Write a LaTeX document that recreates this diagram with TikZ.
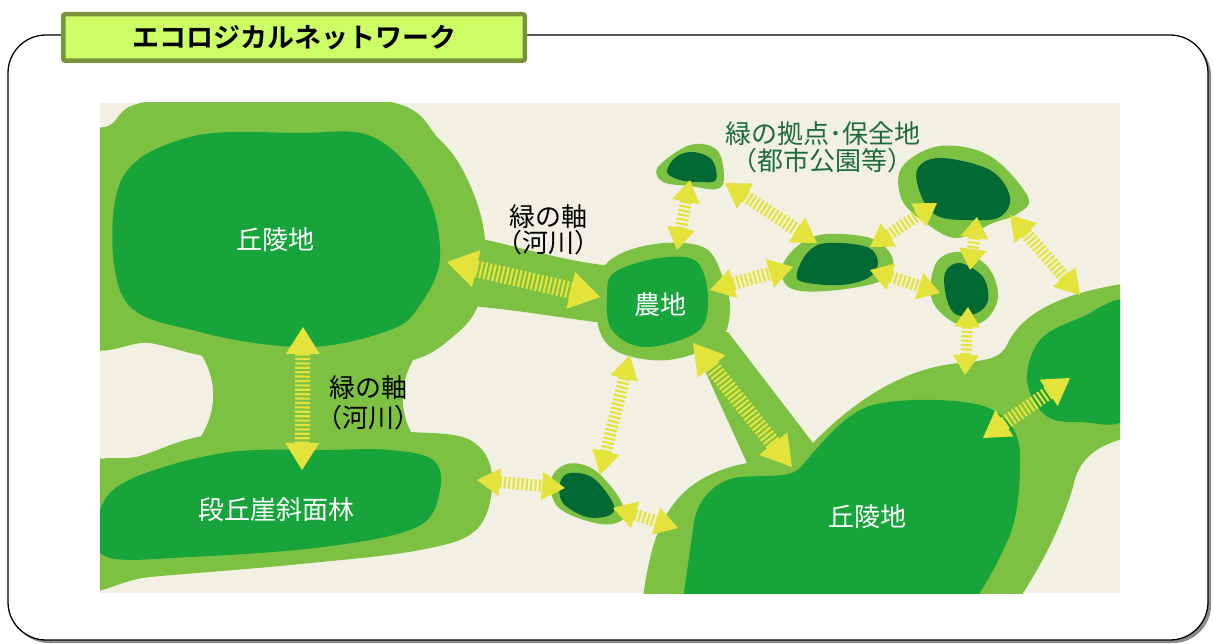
\documentclass[tikz,border=0pt]{standalone}
\usepackage{fontspec}
\newfontfamily\jp{Noto Sans CJK JP}
\newfontfamily\jpb{Noto Sans CJK JP Bold}
\usetikzlibrary{calc}
\definecolor{cream}{HTML}{F2F0E2}
\definecolor{lgreen}{HTML}{7DC143}
\definecolor{mgreen}{HTML}{16A43B}
\definecolor{dgreen}{HTML}{006934}
\definecolor{ayellow}{HTML}{E3E33B}
\definecolor{labelgreen}{HTML}{1E6B3B}
\definecolor{titlefill}{HTML}{CCFF66}
\definecolor{titleborder}{HTML}{77933C}
\definecolor{shadowgray}{HTML}{8A8A8A}
\newcommand\yarrow[5]{%
  \path ($(#1)!#3!(#2)$) coordinate (ya) ($(#2)!#3!(#1)$) coordinate (yb);
  \fill[ayellow] (#1) -- ($(ya)!#4!90:(#1)$) -- ($(ya)!#4!-90:(#1)$) -- cycle;
  \fill[ayellow] (#2) -- ($(yb)!#4!90:(#2)$) -- ($(yb)!#4!-90:(#2)$) -- cycle;
  \draw[ayellow, line width=#5, dash pattern=on 2.2pt off 2.2pt] ($(ya)!-0.5pt!(yb)$) -- ($(yb)!-0.5pt!(ya)$);
}
\begin{document}
\begin{tikzpicture}[x=1pt,y=-1pt,
  lbl/.style={font=\jp\fontsize{26}{30}\selectfont, inner sep=0pt},
  wlbl/.style={lbl, text=white},
  blbl/.style={lbl, text=black},
  glbl/.style={lbl, text=labelgreen},
  blob/.style={smooth cycle, tension=0.6}]
\useasboundingbox (0,0) rectangle (1214,644);
% frame
\fill[shadowgray, rounded corners=38pt] (11,38) rectangle (1211,643);
\filldraw[fill=white, draw=black, line width=1.3pt, rounded corners=38pt] (8,35) rectangle (1208,640);
% map
\fill[cream] (100,103) rectangle (1120,593);
\begin{scope}
\clip (100,103) rectangle (1120,593);
% light green areas
\fill[lgreen] plot[blob] coordinates {(80,150) (110,125) (160,100) (380,100) (440,140) (470,185) (485,240) (480,300) (455,335) (405,362) (300,366) (210,357) (150,343) (80,335)};
\fill[lgreen] (190,340) .. controls (218,370) and (222,410) .. (195,445) -- (420,445) .. controls (398,420) and (396,380) .. (420,350) -- cycle;
\fill[lgreen] plot[blob] coordinates {(80,472) (140,456) (210,435) (330,432) (410,432) (470,440) (492,475) (478,528) (420,550) (290,565) (150,577) (80,585)};
\fill[lgreen] (470,236) .. controls (530,250) and (570,262) .. (612,266) -- (612,324) .. controls (560,318) and (520,310) .. (470,306) -- cycle;
\fill[lgreen] plot[blob] coordinates {(600,275) (622,253) (665,243) (705,248) (722,275) (730,310) (718,342) (668,360) (618,352) (598,325)};
\fill[lgreen] (640,620) .. controls (650,540) and (660,480) .. (747,463)
  -- (690,338) -- (728,332) -- (813,443)
  .. controls (850,405) and (900,368) .. (960,363)
  .. controls (990,360) and (1000,358) .. (1007,345)
  .. controls (1020,315) and (1060,292) .. (1130,283)
  -- (1130,437) .. controls (1095,445) and (1078,460) .. (1073,487)
  .. controls (1060,530) and (1040,570) .. (1005,620) -- cycle;
% medium green areas
\fill[mgreen] plot[blob] coordinates {(120,183) (190,137) (300,133) (373,137) (425,190) (440,257) (420,305) (390,330) (307,347) (200,332) (123,297)};
\fill[mgreen] plot[blob] coordinates {(97,523) (123,483) (223,453) (330,450) (390,450) (433,460) (440,490) (417,527) (323,547) (190,557) (107,557)};
\fill[mgreen] plot[blob] coordinates {(615,272) (660,258) (697,262) (708,300) (697,332) (645,347) (612,330) (607,295)};
\fill[mgreen] (680,620) -- (693,530) .. controls (695,500) and (715,480) .. (740,477)
  .. controls (770,475) and (790,478) .. (800,468)
  .. controls (820,445) and (845,412) .. (873,405)
  .. controls (900,398) and (950,398) .. (980,405)
  .. controls (1005,412) and (1020,430) .. (1020,455)
  .. controls (1020,490) and (1018,513) .. (1010,535)
  .. controls (995,570) and (980,595) .. (960,620) -- cycle;
\fill[mgreen] plot[blob] coordinates {(1130,305) (1080,318) (1040,340) (1027,380) (1045,415) (1080,422) (1130,413)};
% parks
\fill[lgreen] plot[blob] coordinates {(658,167) (690,145) (717,150) (724,177) (717,189) (690,186) (663,182)};
\fill[dgreen] plot[blob] coordinates {(667,172) (676,157) (693,152) (712,160) (716,180) (700,182) (680,180)};
\fill[lgreen] plot[blob] coordinates {(782,267) (800,244) (827,234) (873,239) (893,260) (881,281) (827,291) (790,288)};
\fill[dgreen] plot[blob] coordinates {(797,273) (808,252) (827,243) (867,247) (878,263) (868,278) (840,285) (803,282)};
\fill[lgreen] plot[blob] coordinates {(902,167) (940,146) (990,156) (1028,197) (1017,214) (993,223) (957,238) (927,224) (902,200)};
\fill[dgreen] plot[blob] coordinates {(917,170) (940,158) (990,170) (1010,197) (1000,217) (973,220) (940,217) (923,200)};
\fill[lgreen] plot[blob] coordinates {(936,263) (960,252) (988,267) (998,297) (984,321) (957,324) (932,300)};
\fill[dgreen] plot[blob] coordinates {(945,273) (960,263) (983,277) (988,300) (977,313) (957,315) (947,300)};
\fill[lgreen] plot[blob] coordinates {(551,480) (567,464) (593,469) (618,496) (624,518) (600,524) (559,508)};
\fill[dgreen] plot[blob] coordinates {(560,483) (570,473) (593,478) (613,503) (610,515) (587,517) (563,503)};
\end{scope}
% arrow end points
\coordinate (a1s) at (447,262); \coordinate (a1e) at (600,297);
\coordinate (a2s) at (303,327); \coordinate (a2e) at (302,470);
\coordinate (a3s) at (477,480); \coordinate (a3e) at (565,488);
\coordinate (a4s) at (613,508); \coordinate (a4e) at (678,528);
\coordinate (a5s) at (630,355); \coordinate (a5e) at (600,475);
\coordinate (a6s) at (693,343); \coordinate (a6e) at (792,467);
\coordinate (a7s) at (690,180); \coordinate (a7e) at (677,250);
\coordinate (a8s) at (725,183); \coordinate (a8e) at (817,243);
\coordinate (a9s) at (710,290); \coordinate (a9e) at (793,267);
\coordinate (a10s) at (870,270); \coordinate (a10e) at (940,293);
\coordinate (a11s) at (870,247); \coordinate (a11e) at (937,203);
\coordinate (a12s) at (977,217); \coordinate (a12e) at (970,270);
\coordinate (a13s) at (968,307); \coordinate (a13e) at (965,375);
\coordinate (a14s) at (1010,215); \coordinate (a14e) at (1080,295);
\coordinate (a15s) at (983,438); \coordinate (a15e) at (1070,378);
\yarrow{a1s}{a1e}{30pt}{19pt}{17pt}
\yarrow{a2s}{a2e}{27pt}{17pt}{15pt}
\yarrow{a3s}{a3e}{23pt}{14pt}{12pt}
\yarrow{a4s}{a4e}{23pt}{14pt}{12pt}
\yarrow{a5s}{a5e}{24pt}{14pt}{12pt}
\yarrow{a6s}{a6e}{30pt}{18pt}{16pt}
\yarrow{a7s}{a7e}{22pt}{14pt}{12pt}
\yarrow{a8s}{a8e}{24pt}{15pt}{13pt}
\yarrow{a9s}{a9e}{24pt}{15pt}{13pt}
\yarrow{a10s}{a10e}{22pt}{14pt}{12pt}
\yarrow{a11s}{a11e}{22pt}{14pt}{12pt}
\yarrow{a12s}{a12e}{21pt}{14pt}{12pt}
\yarrow{a13s}{a13e}{20pt}{13pt}{11pt}
\yarrow{a14s}{a14e}{24pt}{15pt}{13pt}
\yarrow{a15s}{a15e}{26pt}{16pt}{14pt}
% labels
\node[wlbl] (hill1) at (275,240) {丘陵地};
\node[wlbl] (forest) at (276,510) {段丘崖斜面林};
\node[wlbl] (farm) at (660,305) {農地};
\node[wlbl] (hill2) at (867,517) {丘陵地};
\node[blbl] (axis1a) at (548,217) {緑の軸};
\node[blbl] (axis1b) at (548,243) {（河川）};
\node[blbl] (axis2a) at (368,388) {緑の軸};
\node[blbl] (axis2b) at (368,418) {（河川）};
\node[glbl] (base1) at (823,134) {緑の拠点･保全地};
\node[glbl] (base2) at (822,161) {（都市公園等）};
% title
\node[draw=titleborder, line width=4.5pt, fill=titlefill, rounded corners=2pt,
  minimum width=461.5pt, minimum height=46.5pt, inner sep=0pt,
  font=\jpb\fontsize{27}{30}\selectfont] (title) at (294,37.5) {エコロジカルネットワーク};
\end{tikzpicture}
\end{document}
